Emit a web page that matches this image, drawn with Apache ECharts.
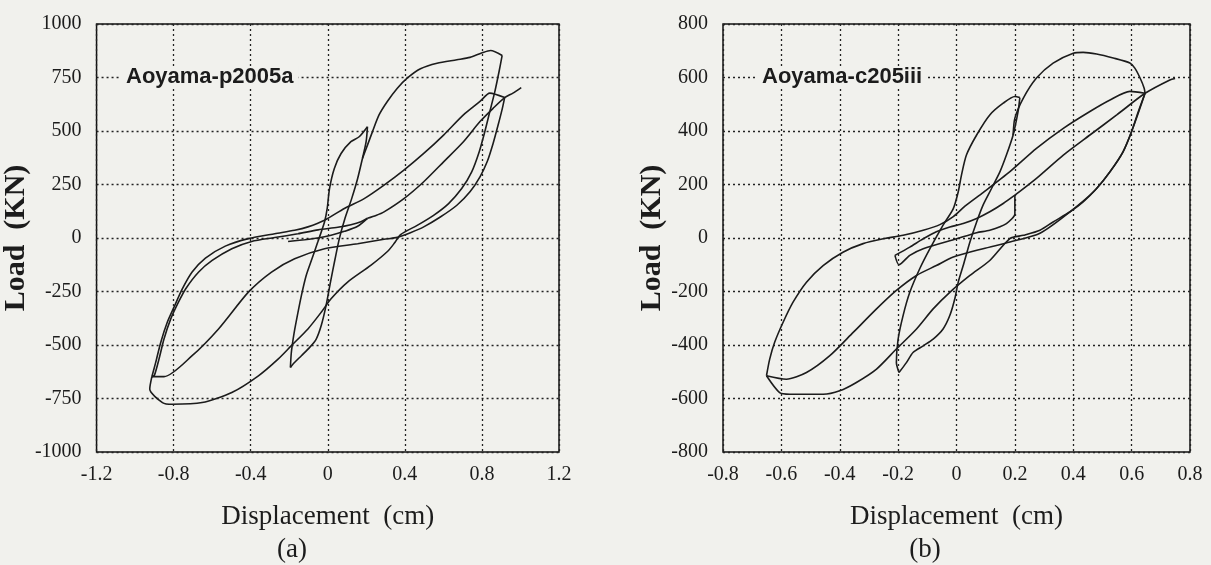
<!DOCTYPE html>
<html>
<head>
<meta charset="utf-8">
<script src="https://cdn.jsdelivr.net/npm/echarts@6/dist/echarts.min.js"></script>
<style>
  html, body { margin: 0; padding: 0; background: #f1f1ed; }
  #chart { width: 1211px; height: 565px; }
</style>
</head>
<body>
<div id="chart"></div>
<script>
// (a) Aoyama-p2005a : displacement (cm), load (KN)
var aMedUp = [[-0.194,-605],[-0.189,-534],[-0.177,-456],[-0.163,-386],[-0.137,-269],[-0.112,-175],[-0.082,-97],[-0.052,-19],[-0.017,75],[-0.003,138],[0.009,231],[0.034,325],[0.069,395],[0.12,450],[0.163,473],[0.206,520]];
var aMedDown = [[0.206,520],[0.199,450],[0.18,372],[0.155,278],[0.124,184],[0.089,91],[0.06,-3],[0.038,-97],[0.014,-206],[-0.009,-316],[-0.034,-409],[-0.06,-472],[-0.094,-511],[-0.137,-550],[-0.18,-589],[-0.194,-605]];
var aBigUp = [[0.18,372],[0.206,434],[0.232,497],[0.266,575],[0.309,638],[0.361,700],[0.412,747],[0.481,791],[0.567,817],[0.67,833],[0.738,844],[0.798,864],[0.845,876],[0.905,853]];
var aBigDown = [[0.905,853],[0.889,778],[0.867,684],[0.841,591],[0.815,497],[0.786,403],[0.747,309],[0.695,231],[0.627,161],[0.549,106],[0.464,59],[0.378,16],[0.345,-25],[0.311,-62],[0.223,-128],[0.103,-206],[0.017,-284],[-0.034,-347],[-0.103,-425],[-0.189,-503],[-0.258,-566],[-0.36,-644],[-0.498,-722],[-0.652,-769],[-0.807,-777],[-0.858,-769],[-0.924,-706],[-0.913,-648]];
var aReload = [[-0.913,-648],[-0.893,-581],[-0.867,-488],[-0.833,-394],[-0.798,-323],[-0.755,-238],[-0.704,-159],[-0.635,-94],[-0.532,-38],[-0.412,-3],[-0.275,20],[-0.172,36],[-0.103,52],[-0.017,83],[0.086,138],[0.189,184],[0.292,247],[0.395,317],[0.498,395],[0.601,481],[0.704,575],[0.79,638],[0.841,677],[0.918,656]];
var aUnload = [[0.918,656],[0.906,606],[0.884,528],[0.858,442],[0.827,356],[0.79,286],[0.738,216],[0.67,153],[0.584,98],[0.498,52],[0.429,25],[0.361,3],[0.292,-6],[0.155,-27],[-0.017,-50],[-0.172,-97],[-0.292,-159],[-0.412,-253],[-0.567,-425],[-0.704,-550],[-0.85,-648],[-0.913,-648]];
var aInner = [[-0.913,-648],[-0.9,-642],[-0.876,-566],[-0.85,-472],[-0.815,-378],[-0.775,-300],[-0.738,-238],[-0.67,-159],[-0.6,-105],[-0.498,-50],[-0.395,-16],[-0.275,2],[-0.155,20],[-0.05,38],[0.052,50],[0.12,62],[0.172,76],[0.206,92]];
var aSmall = [[0.206,92],[0.155,55],[0.086,31],[0.017,13],[-0.052,0],[-0.12,-8],[-0.206,-16]];
var aFinal = [[0.206,92],[0.25,105],[0.292,122],[0.395,184],[0.498,263],[0.601,356],[0.704,450],[0.79,544],[0.858,606],[0.918,656],[0.961,677],[1.004,703]];

// (b) Aoyama-c205iii
var bMedDown = [[0.217,525],[0.211,473],[0.194,385],[0.171,310],[0.149,248],[0.12,185],[0.091,123],[0.069,60],[0.046,-15],[0.023,-103],[0.006,-165],[-0.006,-228],[-0.023,-290],[-0.046,-340],[-0.08,-378],[-0.114,-403],[-0.149,-428],[-0.171,-465],[-0.197,-503]];
var bMedUp = [[-0.197,-503],[-0.206,-465],[-0.2,-378],[-0.183,-290],[-0.16,-203],[-0.126,-115],[-0.091,-40],[-0.046,48],[-0.011,110],[0.006,173],[0.017,235],[0.034,310],[0.069,385],[0.114,460],[0.16,504],[0.2,529],[0.217,525]];
var bBigUp = [[0.194,385],[0.2,448],[0.229,523],[0.274,598],[0.331,654],[0.4,691],[0.434,694],[0.48,688],[0.537,673],[0.594,654],[0.611,635],[0.629,598],[0.643,560],[0.646,541]];
var bBigDown = [[0.646,541],[0.623,473],[0.6,398],[0.571,323],[0.526,248],[0.48,185],[0.434,135],[0.389,98],[0.331,60],[0.286,29],[0.229,10],[0.183,-2],[0.114,-84],[0.046,-140],[-0.023,-203],[-0.08,-265],[-0.137,-340],[-0.206,-415],[-0.274,-490],[-0.343,-540],[-0.4,-571],[-0.457,-584],[-0.571,-584],[-0.606,-578],[-0.651,-515]];
var bLowerMid = [[-0.651,-515],[-0.583,-528],[-0.514,-503],[-0.434,-440],[-0.354,-353],[-0.274,-265],[-0.206,-196],[-0.137,-140],[-0.069,-103],[-0.011,-71],[0.091,-40],[0.183,-15],[0.286,18],[0.389,98],[0.48,185],[0.571,323],[0.646,541]];
var bOuter = [[-0.651,-515],[-0.64,-453],[-0.623,-390],[-0.594,-315],[-0.56,-240],[-0.514,-165],[-0.457,-103],[-0.389,-53],[-0.32,-21],[-0.251,-3],[-0.183,10],[-0.114,29],[-0.057,50],[-0.011,80],[0.03,120],[0.091,170],[0.183,248],[0.274,335],[0.366,410],[0.457,473],[0.526,516],[0.594,548],[0.646,541]];
var bSmallUp = [[-0.211,-65],[-0.16,-34],[-0.114,-3],[-0.069,23],[-0.023,41],[0.023,54],[0.069,73],[0.114,98],[0.16,129],[0.2,160]];
var bSmallDown = [[0.2,160],[0.2,91],[0.171,54],[0.114,29],[0.069,20],[0,-3],[-0.114,-40],[-0.16,-65],[-0.197,-100],[-0.211,-65]];
var bFinal = [[0.2,160],[0.274,223],[0.366,310],[0.457,385],[0.549,460],[0.646,541],[0.731,591],[0.749,596]];

var xTicksA = { min: -1.2, max: 1.2, interval: 0.4 };
var yTicksA = { min: -1000, max: 1000, interval: 250 };
var xTicksB = { min: -0.8, max: 0.8, interval: 0.2 };
var yTicksB = { min: -800, max: 800, interval: 200 };

var ink = '#1c1c1c';
var serif = 'Liberation Serif';

function xAxisFor(grid, t) {
  return {
    type: 'value', gridIndex: grid, min: t.min, max: t.max, interval: t.interval,
    name: 'Displacement  (cm)', nameLocation: 'middle', nameGap: 51,
    nameTextStyle: { fontFamily: serif, fontSize: 27, color: ink },
    axisLine: { show: false }, axisTick: { show: false },
    axisLabel: { fontFamily: serif, fontSize: 20, color: ink, margin: 13,
      formatter: function (v) { return String(+v.toFixed(1)); } },
    splitLine: { show: true, lineStyle: { color: '#222', width: 1.3, type: [2, 3] } }
  };
}
function yAxisFor(grid, t) {
  return {
    type: 'value', gridIndex: grid, min: t.min, max: t.max, interval: t.interval,
    name: 'Load  (KN)', nameLocation: 'middle', nameGap: 47, nameRotate: 90,
    nameTextStyle: { fontFamily: serif, fontSize: 30, fontWeight: 'bold', color: ink },
    axisLine: { show: false }, axisTick: { show: false },
    axisLabel: { fontFamily: serif, fontSize: 20, color: ink, margin: 15,
      formatter: function (v) { return String(v); } },
    splitLine: { show: true, lineStyle: { color: '#222', width: 1.3, type: [2, 3] } }
  };
}

function strokes(list, idx) {
  return list.map(function (d) {
    return {
      type: 'line', xAxisIndex: idx, yAxisIndex: idx, data: d,
      showSymbol: false, smooth: 0.25, animation: false, silent: true,
      lineStyle: { color: ink, width: 1.6 }
    };
  });
}

var chart = echarts.init(document.getElementById('chart'));
chart.setOption({
  backgroundColor: '#f1f1ed',
  animation: false,
  grid: [
    { left: 93, top: 24, width: 466, height: 428, show: true, borderColor: '#111', borderWidth: 1.5, backgroundColor: 'transparent' },
    { left: 723, top: 24, width: 467, height: 428, show: true, borderColor: '#111', borderWidth: 1.5, backgroundColor: 'transparent' }
  ],
  xAxis: [xAxisFor(0, xTicksA), xAxisFor(1, xTicksB)],
  yAxis: [yAxisFor(0, yTicksA), yAxisFor(1, yTicksB)],
  series: strokes([aMedUp, aMedDown, aBigUp, aBigDown, aReload, aUnload, aInner, aSmall, aFinal], 0)
    .concat(strokes([bMedDown, bMedUp, bBigUp, bBigDown, bLowerMid, bOuter, bSmallUp, bSmallDown, bFinal], 1)),
  graphic: [
    { type: 'text', z: 100, left: 121, top: 66,
      style: { text: 'Aoyama-p2005a', font: 'bold 22px "Liberation Sans"', fill: ink,
               backgroundColor: '#f1f1ed', padding: [0, 5] } },
    { type: 'text', z: 100, left: 757, top: 66,
      style: { text: 'Aoyama-c205iii', font: 'bold 22px "Liberation Sans"', fill: ink,
               backgroundColor: '#f1f1ed', padding: [0, 5] } },
    { type: 'text', z: 100, x: 292, y: 550,
      style: { text: '(a)', font: '27px "Liberation Serif"', fill: ink, align: 'center', verticalAlign: 'middle' } },
    { type: 'text', z: 100, x: 925, y: 550,
      style: { text: '(b)', font: '27px "Liberation Serif"', fill: ink, align: 'center', verticalAlign: 'middle' } }
  ]
});
</script>
</body>
</html>
